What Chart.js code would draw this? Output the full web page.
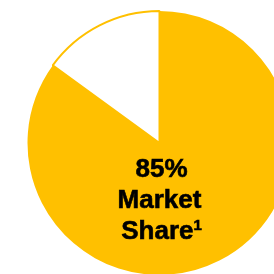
<!DOCTYPE html>
<html>
<head>
<meta charset="utf-8">
<script src="https://cdn.jsdelivr.net/npm/chart.js@4/dist/chart.umd.min.js"></script>
<style>
  html, body { margin: 0; padding: 0; background: #fff; overflow: hidden; }
  #wrap { position: relative; width: 274px; height: 274px; overflow: hidden; }
  #pie { position: absolute; left: 0; top: 0; }
</style>
</head>
<body>
<div id="wrap"><canvas id="pie" width="319" height="286"></canvas></div>
<script>
var labels = ["Market share", "Other"];
var shares = [85, 15];
var sliceColors = ["#FFC000", "#FFFFFF"];
var centerLines = ["85%", "Market", "Share"];
var footnote = "1";

// big label in the middle of the gold part
var centerText = {
    id: "centerText",
    afterDraw: function(chart){
        var arc = chart.getDatasetMeta(0).data[0];
        var ctx = chart.ctx;
        var x = arc.x, y = arc.y;
        var big = "bold 26px 'Liberation Sans', Arial, sans-serif";
        var small = "bold 15px 'Liberation Sans', Arial, sans-serif";
        ctx.save();
        ctx.fillStyle = "#000";
        ctx.strokeStyle = "#000";
        ctx.lineWidth = 0.6;
        ctx.textAlign = "center";
        ctx.textBaseline = "alphabetic";
        ctx.font = big;
        ctx.fillText(centerLines[0], x + 2, y + 34);
        ctx.strokeText(centerLines[0], x + 2, y + 34);
        ctx.fillText(centerLines[1], x, y + 65);
        ctx.strokeText(centerLines[1], x, y + 65);
        // last line carries a superscript
        var w = ctx.measureText(centerLines[2]).width;
        ctx.font = small;
        var sw = ctx.measureText(footnote).width;
        var left = x + 2 - (w + sw) / 2;
        ctx.textAlign = "left";
        ctx.fillText(footnote, left + w, y + 87);
        ctx.strokeText(footnote, left + w, y + 87);
        ctx.font = big;
        ctx.fillText(centerLines[2], left, y + 96);
        ctx.strokeText(centerLines[2], left, y + 96);
        ctx.restore();
    }
};

var chart = new Chart(document.getElementById("pie").getContext("2d"), {
    type: "pie",
    data: {
        labels: labels,
        datasets: [{
            data: shares,
            backgroundColor: sliceColors,
            borderColor: "#FFC000",
            borderWidth: [0, 2],
            hoverOffset: 0
        }]
    },
    options: {
        responsive: false,
        animation: false,
        layout: { padding: 10 },
        plugins: {
            legend: { display: false },
            tooltip: { enabled: false }
        }
    },
    plugins: [centerText]
});
</script>
</body>
</html>
